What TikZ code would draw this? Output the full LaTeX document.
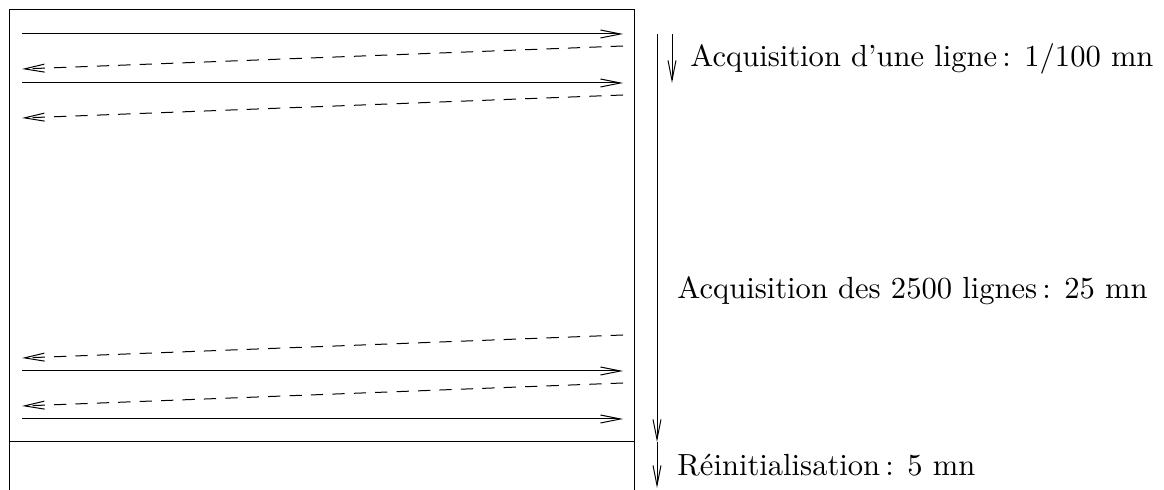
\documentclass[tikz,border=0pt]{standalone}
\usepackage{fontspec}
\usepackage{tikz}
\usetikzlibrary{arrows.meta}

\begin{document}
\begin{tikzpicture}[x=0.35pt,y=-0.35pt,line width=0.35pt,
    >={Straight Barb[length=7pt,width=2.8pt]},
    aller/.style={->},
    retour/.style={->,dash pattern=on 4.3pt off 3.2pt},
    duree/.style={anchor=base west,inner sep=0pt,font=\fontsize{10.7}{13}\selectfont}]
        \useasboundingbox (0,0) rectangle (1164,490);

        % Cadre
        \coordinate (hg) at (10,10);
        \coordinate (hd) at (634,10);
        \coordinate (bg) at (10,490);
        \coordinate (bd) at (634,490);
        \coordinate (mg) at (10,442);
        \coordinate (md) at (634,442);
        \draw (bg) -- (hg) -- (hd) -- (bd);
        \draw (mg) -- (md);

        % Lignes
        \coordinate (a1) at (22,34);   \coordinate (b1) at (623,34);
        \coordinate (c1) at (623,46);  \coordinate (d1) at (22,69);
        \coordinate (a2) at (22,83);   \coordinate (b2) at (623,83);
        \coordinate (c2) at (623,95);  \coordinate (d2) at (22,118);
        \coordinate (c3) at (623,335); \coordinate (d3) at (22,358);
        \coordinate (a3) at (22,371);  \coordinate (b3) at (623,371);
        \coordinate (c4) at (623,383); \coordinate (d4) at (22,406);
        \coordinate (a4) at (22,419);  \coordinate (b4) at (623,419);

        \draw[aller] (a1) -- (b1);
        \draw[retour] (c1) -- (d1);
        \draw[aller] (a2) -- (b2);
        \draw[retour] (c2) -- (d2);
        \draw[retour] (c3) -- (d3);
        \draw[aller] (a3) -- (b3);
        \draw[retour] (c4) -- (d4);
        \draw[aller] (a4) -- (b4);

        % Durees
        \coordinate (t0) at (657,34);
        \coordinate (t1) at (657,442);
        \coordinate (t2) at (657,488);
        \coordinate (l0) at (672,34);
        \coordinate (l1) at (672,83);
        \draw[->] (t0) -- (t1);
        \draw[->] (t1) -- (t2);
        \draw[->] (l0) -- (l1);

        \node (ligne) [duree] at (690,67) {Acquisition d'une ligne\,: 1/100 mn};
        \node (image) [duree] at (677,299) {Acquisition des 2500 lignes\,: 25 mn};
        \node (reinit) [duree] at (677,476) {Réinitialisation\,: 5 mn};

    \end{tikzpicture}
\end{document}
